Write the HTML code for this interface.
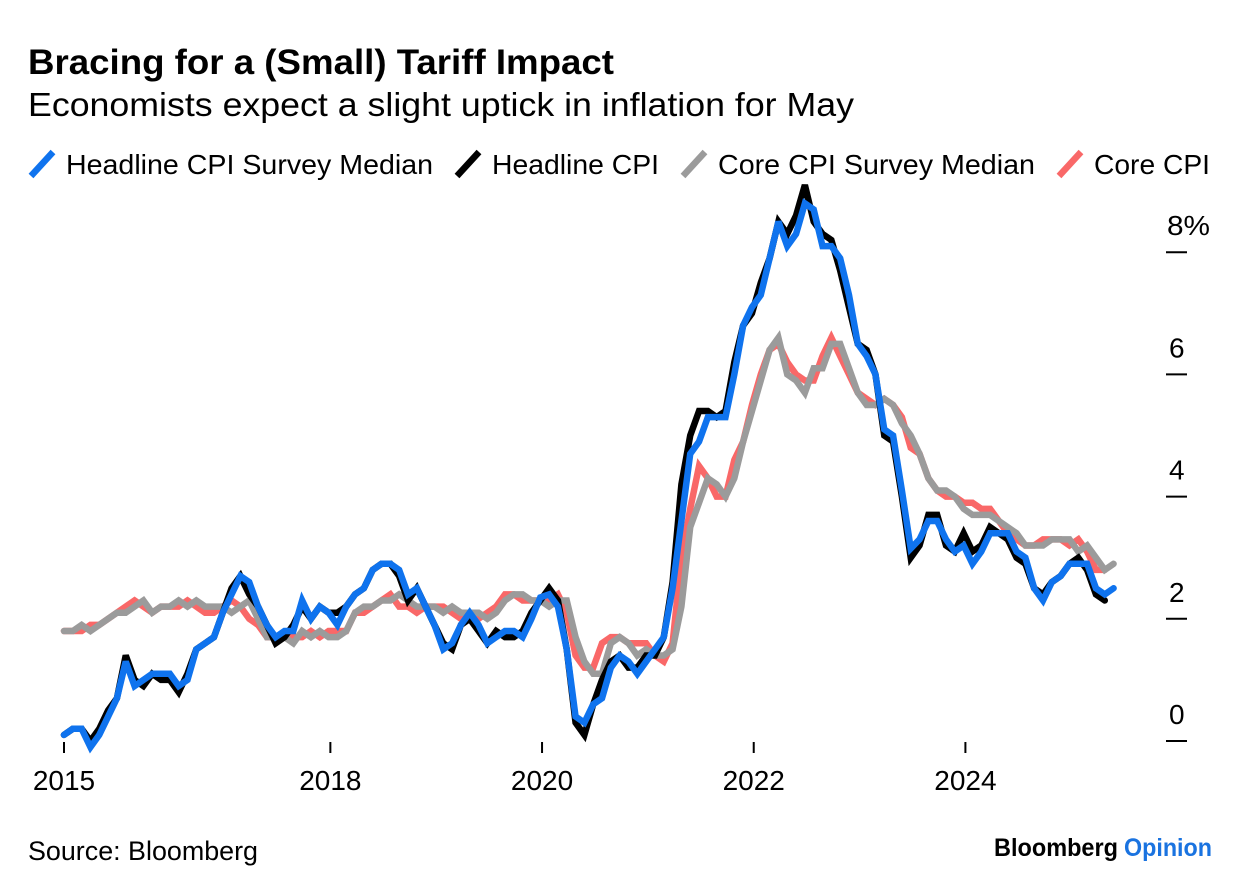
<!DOCTYPE html>
<html lang="en">
<head>
<meta charset="utf-8">
<title>Bracing for a (Small) Tariff Impact</title>
<style>
html,body{margin:0;padding:0;background:#fff;}
body{width:1240px;height:892px;overflow:hidden;}
svg{display:block;}
text{font-family:"Liberation Sans",sans-serif;fill:#000;}
</style>
</head>
<body>
<svg id="chart" width="1240" height="892" viewBox="0 0 1240 892" xmlns="http://www.w3.org/2000/svg">
  <rect x="0" y="0" width="1240" height="892" fill="#fff"/>
  <text x="28" y="74" font-size="35" font-weight="700" textLength="586" lengthAdjust="spacingAndGlyphs">Bracing for a (Small) Tariff Impact</text>
  <text x="28" y="116" font-size="33" textLength="826" lengthAdjust="spacingAndGlyphs">Economists expect a slight uptick in inflation for May</text>

  <g>
    <g>
      <line x1="31" y1="176" x2="53" y2="152" stroke="#0f73ee" stroke-width="6.5"/>
      <text x="66" y="174" font-size="28" textLength="367" lengthAdjust="spacingAndGlyphs">Headline CPI Survey Median</text>
    </g>
    <g>
      <line x1="457" y1="176" x2="479" y2="152" stroke="#000" stroke-width="6.5"/>
      <text x="492" y="174" font-size="28" textLength="167" lengthAdjust="spacingAndGlyphs">Headline CPI</text>
    </g>
    <g>
      <line x1="683" y1="176" x2="705" y2="152" stroke="#9b9b9b" stroke-width="6.5"/>
      <text x="718" y="174" font-size="28" textLength="317" lengthAdjust="spacingAndGlyphs">Core CPI Survey Median</text>
    </g>
    <g>
      <line x1="1059" y1="176" x2="1081" y2="152" stroke="#f96868" stroke-width="6.5"/>
      <text x="1094" y="174" font-size="28" textLength="116" lengthAdjust="spacingAndGlyphs">Core CPI</text>
    </g>
  </g>

  <g id="y-axis"></g>
  <g id="x-axis"></g>
  <g id="series"></g>

  <text x="28" y="860" font-size="27" textLength="230" lengthAdjust="spacingAndGlyphs">Source: Bloomberg</text>
  <g>
    <text x="994" y="856" font-size="25" font-weight="700" textLength="124" lengthAdjust="spacingAndGlyphs">Bloomberg</text>
    <text x="1124" y="856" font-size="25" font-weight="700" style="fill:#1a73e0" textLength="88" lengthAdjust="spacingAndGlyphs">Opinion</text>
  </g>
</svg>
<script>
// Monthly year-over-year values, starting June 2015.
var coreCpi = [
  1.8,1.8,1.8,1.9,1.9,2.0,2.1,
  2.2,2.3,2.2,2.1,2.2,2.2,2.2,2.3,2.2,2.1,2.1,2.2,
  2.3,2.2,2.0,1.9,1.7,1.7,1.7,1.7,1.7,1.8,1.7,1.8,
  1.8,1.8,2.1,2.1,2.2,2.3,2.4,2.2,2.2,2.1,2.2,2.2,
  2.2,2.1,2.0,2.1,2.0,2.1,2.2,2.4,2.4,2.3,2.3,2.3,
  2.3,2.4,2.1,1.4,1.2,1.2,1.6,1.7,1.7,1.6,1.6,1.6,
  1.4,1.3,1.6,3.0,3.8,4.5,4.3,4.0,4.0,4.6,4.9,5.5,
  6.0,6.4,6.5,6.2,6.0,5.9,5.9,6.3,6.6,6.3,6.0,5.7,
  5.6,5.5,5.6,5.5,5.3,4.8,4.7,4.3,4.1,4.0,4.0,3.9,
  3.9,3.8,3.8,3.6,3.4,3.3,3.2,3.2,3.3,3.3,3.3,3.2,
  3.3,3.1,2.8,2.8
];
var coreSurvey = [
  1.8,1.8,1.9,1.8,1.9,2.0,2.1,
  2.1,2.2,2.3,2.1,2.2,2.2,2.3,2.2,2.3,2.2,2.2,2.2,
  2.1,2.2,2.3,2.0,1.7,1.7,1.7,1.6,1.8,1.7,1.8,1.7,
  1.7,1.8,2.1,2.2,2.2,2.3,2.3,2.4,2.3,2.2,2.2,2.2,
  2.1,2.2,2.1,2.1,2.1,2.0,2.1,2.3,2.4,2.4,2.3,2.3,
  2.2,2.3,2.3,1.7,1.3,1.1,1.1,1.6,1.7,1.6,1.4,1.5,
  1.4,1.4,1.5,2.2,3.5,3.9,4.3,4.2,4.0,4.3,4.9,5.4,
  5.9,6.4,6.6,6.0,5.9,5.7,6.1,6.1,6.5,6.5,6.1,5.7,
  5.5,5.5,5.6,5.5,5.2,5.0,4.7,4.3,4.1,4.1,4.0,3.8,
  3.7,3.7,3.7,3.6,3.5,3.4,3.2,3.2,3.2,3.3,3.3,3.3,
  3.1,3.2,3.0,2.8,2.9
];
var headlineCpi = [
  0.1,0.2,0.2,0.0,0.2,0.5,0.7,
  1.4,1.0,0.9,1.1,1.0,1.0,0.8,1.1,1.5,1.6,1.7,2.1,
  2.5,2.7,2.4,2.2,1.9,1.6,1.7,1.9,2.2,2.0,2.2,2.1,
  2.1,2.2,2.4,2.5,2.8,2.9,2.9,2.7,2.3,2.5,2.2,1.9,
  1.6,1.5,1.9,2.0,1.8,1.6,1.8,1.7,1.7,1.8,2.1,2.3,
  2.5,2.3,1.5,0.3,0.1,0.6,1.0,1.3,1.4,1.2,1.2,1.4,
  1.4,1.7,2.6,4.2,5.0,5.4,5.4,5.3,5.4,6.2,6.8,7.0,
  7.5,7.9,8.5,8.3,8.6,9.1,8.5,8.3,8.2,7.7,7.1,6.5,
  6.4,6.0,5.0,4.9,4.0,3.0,3.2,3.7,3.7,3.2,3.1,3.4,
  3.1,3.2,3.5,3.4,3.3,3.0,2.9,2.5,2.4,2.6,2.7,2.9,
  3.0,2.8,2.4,2.3
];
var headlineSurvey = [
  0.1,0.2,0.2,-0.1,0.1,0.4,0.7,
  1.3,0.9,1.0,1.1,1.1,1.1,0.9,1.0,1.5,1.6,1.7,2.1,
  2.4,2.7,2.6,2.2,1.9,1.7,1.8,1.8,2.3,2.0,2.2,2.1,
  1.9,2.2,2.4,2.5,2.8,2.9,2.9,2.8,2.4,2.5,2.2,1.9,
  1.5,1.6,1.9,2.1,1.9,1.6,1.7,1.8,1.8,1.7,2.0,2.35,
  2.4,2.2,1.5,0.4,0.3,0.6,0.7,1.2,1.4,1.3,1.1,1.3,
  1.5,1.7,2.5,3.6,4.7,4.9,5.3,5.3,5.3,6.0,6.8,7.1,
  7.3,7.9,8.5,8.1,8.3,8.8,8.7,8.1,8.1,7.9,7.3,6.5,
  6.3,6.0,5.1,5.0,4.1,3.15,3.3,3.6,3.6,3.3,3.1,3.2,
  2.9,3.1,3.4,3.4,3.4,3.1,3.0,2.5,2.3,2.6,2.7,2.9,
  2.9,2.9,2.5,2.4,2.5
];
var yTickValues = [0, 2, 4, 6, 8];
var yTickLabels = ["0", "2", "4", "6", "8%"];
var xTickMonths = [0, 30.2, 54.2, 78.2, 102.2];
var xTickLabels = ["2015", "2018", "2020", "2022", "2024"];

var SVGNS = "http://www.w3.org/2000/svg";
function xScale(month) { return 64 + month * 8.82; }
function yScale(value) { return 741 - value * 61.1; }

function pathFor(values) {
  var parts = [];
  for (var i = 0; i < values.length; i++) {
    parts.push((i ? "L" : "M") + xScale(i).toFixed(2) + " " + yScale(values[i]).toFixed(2));
  }
  return parts.join(" ");
}

var yAxis = document.getElementById("y-axis");
yTickValues.forEach(function (v, i) {
  var y = yScale(v);
  var t = document.createElementNS(SVGNS, "line");
  
  
  t.setAttribute("x1", 1166);
  t.setAttribute("x2", 1187);
  t.setAttribute("y1", y);
  t.setAttribute("y2", y);
  t.setAttribute("stroke", "#000");
  t.setAttribute("stroke-width", 2);
  yAxis.appendChild(t);
  var l = document.createElementNS(SVGNS, "text");
  
  
  l.setAttribute("x", yTickLabels[i].length > 1 ? 1167 : 1169);
  l.setAttribute("y", y - 17);
  l.setAttribute("font-size", 28);
  if (yTickLabels[i].length > 1) {
    l.setAttribute("textLength", 43);
    l.setAttribute("lengthAdjust", "spacingAndGlyphs");
  }
  l.textContent = yTickLabels[i];
  yAxis.appendChild(l);
});

var xAxis = document.getElementById("x-axis");
xTickMonths.forEach(function (m, i) {
  var x = xScale(m);
  var t = document.createElementNS(SVGNS, "line");
  
  
  t.setAttribute("x1", x);
  t.setAttribute("x2", x);
  t.setAttribute("y1", 742);
  t.setAttribute("y2", 753);
  t.setAttribute("stroke", "#000");
  t.setAttribute("stroke-width", 2);
  xAxis.appendChild(t);
  var l = document.createElementNS(SVGNS, "text");
  
  
  l.setAttribute("x", x);
  l.setAttribute("y", 790);
  l.setAttribute("font-size", 28);
  l.setAttribute("text-anchor", "middle");
  l.textContent = xTickLabels[i];
  xAxis.appendChild(l);
});

var seriesGroup = document.getElementById("series");
function drawLine(values, color) {
  var p = document.createElementNS(SVGNS, "path");
  p.setAttribute("d", pathFor(values));
  p.setAttribute("fill", "none");
  p.setAttribute("stroke", color);
  p.setAttribute("stroke-width", 6.5);
  p.setAttribute("stroke-linejoin", "miter");
  p.setAttribute("stroke-miterlimit", 3);
  p.setAttribute("stroke-linecap", "round");
  seriesGroup.appendChild(p);
  return p;
}
var lineCore = drawLine(coreCpi, "#f96868");


var lineCoreSurvey = drawLine(coreSurvey, "#9b9b9b");


var lineHeadline = drawLine(headlineCpi, "#000000");


var lineHeadlineSurvey = drawLine(headlineSurvey, "#0f73ee");


</script>
</body>
</html>
